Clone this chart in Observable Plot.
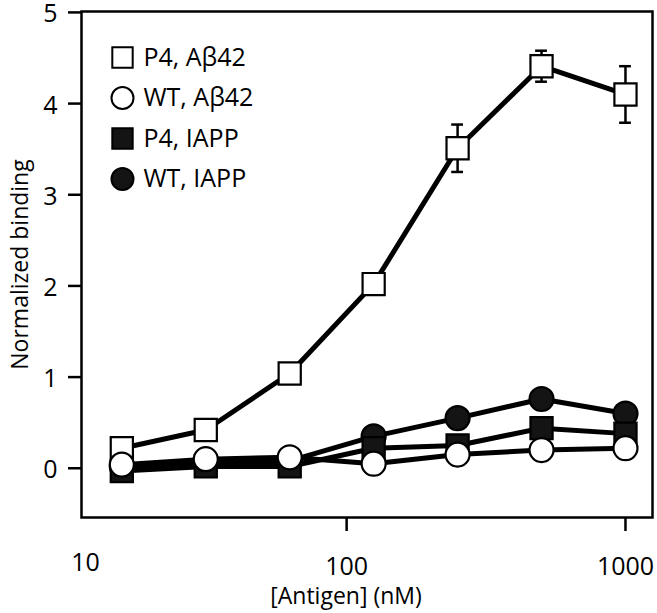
<!DOCTYPE html>
<html><head><meta charset="utf-8">
<script src="https://cdn.jsdelivr.net/npm/d3@7"></script>
<script src="https://cdn.jsdelivr.net/npm/@observablehq/plot@0.6"></script>
<style>body{margin:0;background:#fff} svg{display:block}</style>
</head><body><div id="chart"></div>
<script>
// ---- data ----
const conc = [15.625, 31.25, 62.5, 125, 250, 500, 1000];
const p4Abeta = [0.22, 0.42, 1.04, 2.02, 3.51, 4.41, 4.10];
const p4AbetaErr = [0, 0, 0, 0, 0.26, 0.17, 0.31];
const wtAbeta = [0.04, 0.10, 0.12, 0.05, 0.15, 0.20, 0.22];
const p4Iapp = [-0.03, 0.02, 0.02, 0.22, 0.25, 0.44, 0.38];
const wtIapp = [0.02, 0.05, 0.08, 0.35, 0.55, 0.76, 0.60];
const seriesNames = ["P4, Aβ42", "WT, Aβ42", "P4, IAPP", "WT, IAPP"];
const xTicks = [100, 1000];
const xFirstLabel = "10";
const yTicks = [0, 1, 2, 3, 4, 5];
const xLabel = "[Antigen] (nM)";
const yLabel = "Normalized binding";

// ---- styles per series ----
const styles = {
  "P4, Aβ42": {symbol: "square", fill: "white", values: p4Abeta},
  "WT, Aβ42": {symbol: "circle", fill: "white", values: wtAbeta},
  "P4, IAPP": {symbol: "square", fill: "#141414", values: p4Iapp},
  "WT, IAPP": {symbol: "circle", fill: "#141414", values: wtIapp}
};
const drawOrder = ["WT, IAPP", "P4, IAPP", "P4, Aβ42", "WT, Aβ42"];
const rSize = s => s === "square" ? 12.5 : 12;

const errRows = conc.map((c, i) => ({x: c, lo: p4Abeta[i] - p4AbetaErr[i], hi: p4Abeta[i] + p4AbetaErr[i]}))
  .filter((d, i) => p4AbetaErr[i] > 0);

const marks = [
  Plot.frame({stroke: "black", strokeWidth: 2.5}),
  Plot.axisY({ticks: yTicks, tickSize: 13, text: null, label: null, strokeWidth: 2.5}),
  Plot.axisY({ticks: yTicks, tickSize: 0, tickPadding: 24, dy: 2, fontSize: 25, label: null, tickFormat: d => String(d)}),
  Plot.axisX({ticks: xTicks, tickSize: 14, tickPadding: 26, fontSize: 25, label: null, strokeWidth: 2.5, tickFormat: d => String(d)}),
  Plot.text([xFirstLabel], {frameAnchor: "bottom-left", textAnchor: "middle", lineAnchor: "middle", dx: 4, dy: 45, fontSize: 25}),
  Plot.text([xLabel], {frameAnchor: "bottom", textAnchor: "middle", lineAnchor: "middle", dx: -21, dy: 79, fontSize: 23}),
  Plot.text([yLabel], {frameAnchor: "left", textAnchor: "middle", lineAnchor: "middle", rotate: -90, dx: -61, fontSize: 23}),
  Plot.ruleX(errRows, {x: "x", y1: "lo", y2: "hi", strokeWidth: 2.5}),
  Plot.ruleY(errRows, {y: "lo", x1: d => d.x / 1.05, x2: d => d.x * 1.05, strokeWidth: 2.5}),
  Plot.ruleY(errRows, {y: "hi", x1: d => d.x / 1.05, x2: d => d.x * 1.05, strokeWidth: 2.5})
];
for (const name of drawOrder) {
  const s = styles[name];
  const rows = conc.map((c, i) => ({x: c, y: s.values[i]}));
  marks.push(Plot.line(rows, {x: "x", y: "y", stroke: "black", strokeWidth: 5}));
  marks.push(Plot.dot(rows, {x: "x", y: "y", symbol: s.symbol, r: rSize(s.symbol), fill: s.fill, stroke: "black", strokeWidth: 2.2}));
}
seriesNames.forEach((name, i) => {
  const s = styles[name];
  marks.push(Plot.dot([name], {frameAnchor: "top-left", dx: 41, dy: 46 + 40.5 * i, symbol: s.symbol, r: s.symbol === "square" ? 11.5 : 11, fill: s.fill, stroke: "black", strokeWidth: 2}));
  marks.push(Plot.text([name], {frameAnchor: "top-left", dx: 62, dy: 46 + 40.5 * i, textAnchor: "start", lineAnchor: "middle", fontSize: 25}));
});

const chart = Plot.plot({
  width: 657, height: 613,
  marginLeft: 81, marginRight: 5, marginTop: 11, marginBottom: 96,
  style: {fontFamily: "'Open Sans', sans-serif", background: "white", color: "black"},
  x: {type: "log", domain: [11.2, 1250]},
  y: {domain: [-0.54, 5.01]},
  marks
});
document.getElementById("chart").append(chart);
</script>
</body></html>
